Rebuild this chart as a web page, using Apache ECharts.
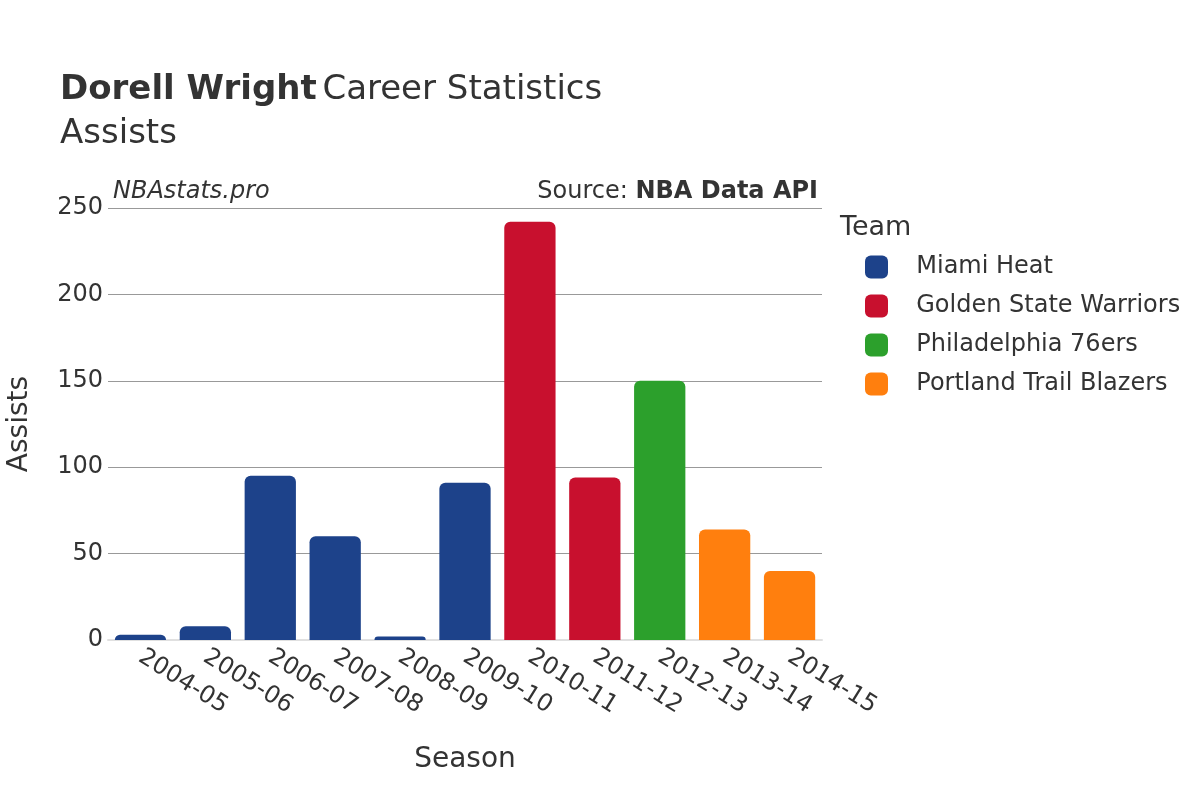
<!DOCTYPE html>
<html>
<head>
<meta charset="utf-8">
<script src="https://cdn.jsdelivr.net/npm/echarts@6/dist/echarts.min.js"></script>
<style>html,body{margin:0;padding:0;background:#fff}#c{width:1200px;height:800px}</style>
</head>
<body>
<div id="c"></div>
<script>
const seasons = ['2004-05','2005-06','2006-07','2007-08','2008-09','2009-10','2010-11','2011-12','2012-13','2013-14','2014-15'];
const teams = ['Miami Heat','Golden State Warriors','Philadelphia 76ers','Portland Trail Blazers'];
const teamColors = ['#1d428a','#c8102e','#2ca02c','#ff7f0e'];
const seasonTeam = ['Miami Heat','Miami Heat','Miami Heat','Miami Heat','Miami Heat','Miami Heat','Golden State Warriors','Golden State Warriors','Philadelphia 76ers','Portland Trail Blazers','Portland Trail Blazers'];
const assists = [3, 8, 95, 60, 2, 91, 242, 94, 150, 64, 40];
const yTicks = [0, 50, 100, 150, 200, 250];

const FONT = 'DejaVu Sans';
const series = teams.map((t, i) => ({
  name: t,
  type: 'bar',
  stack: 'all',
  barCategoryGap: '21%',
  itemStyle: { color: teamColors[i], borderRadius: [6, 6, 0, 0] },
  data: assists.map((v, k) => seasonTeam[k] === t ? v : null)
}));

const chart = echarts.init(document.getElementById('c'), null, { renderer: 'canvas' });
chart.setOption({
  backgroundColor: '#fff',
  animation: false,
  textStyle: { fontFamily: FONT },
  title: {
    left: 55, top: 63,
    text: '{b|Dorell Wright} {n|Career Statistics}\n{n|Assists}',
    textStyle: {
      fontWeight: 'normal',
      rich: {
        b: { fontFamily: FONT, fontSize: 34, fontWeight: 'bold', color: '#333', lineHeight: 44 },
        n: { fontFamily: FONT, fontSize: 34, fontWeight: 'normal', color: '#333', lineHeight: 44 }
      }
    }
  },
  graphic: [
    { type: 'text', left: 113, top: 180, style: { text: 'NBAstats.pro', font: 'italic 24px "DejaVu Sans"', fill: '#333' } },
    { type: 'text', right: 382, top: 180, style: { rich: { a: { fontFamily: FONT, fontSize: 24, fill: '#333' }, b: { fontFamily: FONT, fontSize: 24, fontWeight: 'bold', fill: '#333' } }, text: '{a|Source: }{b|NBA Data API}' } },
    { type: 'text', left: 840, top: 214, style: { text: 'Team', font: '27px "DejaVu Sans"', fill: '#333' } }
  ],
  legend: {
    orient: 'vertical',
    left: 860, top: 250,
    itemWidth: 23, itemHeight: 23,
    itemGap: 15,
    icon: 'roundRect',
    data: teams,
    formatter: n => '  ' + n,
    textStyle: { fontFamily: FONT, fontSize: 24, color: '#333', padding: [0, 0, 0, 8] }
  },
  grid: { left: 108, right: 378, top: 208, bottom: 160, outerBoundsMode: 'none', containLabel: false },
  xAxis: {
    type: 'category',
    data: seasons,
    name: 'Season',
    nameLocation: 'middle',
    nameGap: 106,
    nameTextStyle: { fontFamily: FONT, fontSize: 28, color: '#333' },
    axisTick: { show: false },
    axisLine: { show: true, lineStyle: { color: '#e0e0e0', width: 2 } },
    axisLabel: { rotate: -32, fontFamily: FONT, fontSize: 24, color: '#333', margin: 15, interval: 0 },
  },
  yAxis: {
    type: 'value',
    min: 0, max: 250, interval: 50,
    name: 'Assists',
    nameLocation: 'middle',
    nameGap: 74,
    nameTextStyle: { fontFamily: FONT, fontSize: 28, color: '#333' },
    axisLine: { show: false },
    axisTick: { show: false },
    axisLabel: { fontFamily: FONT, fontSize: 24, color: '#333', margin: 5, formatter: v => yTicks.includes(v) ? String(v) : '' },
    splitLine: { lineStyle: { color: '#999', width: 1 } }
  },
  series: series
});
</script>
</body>
</html>
